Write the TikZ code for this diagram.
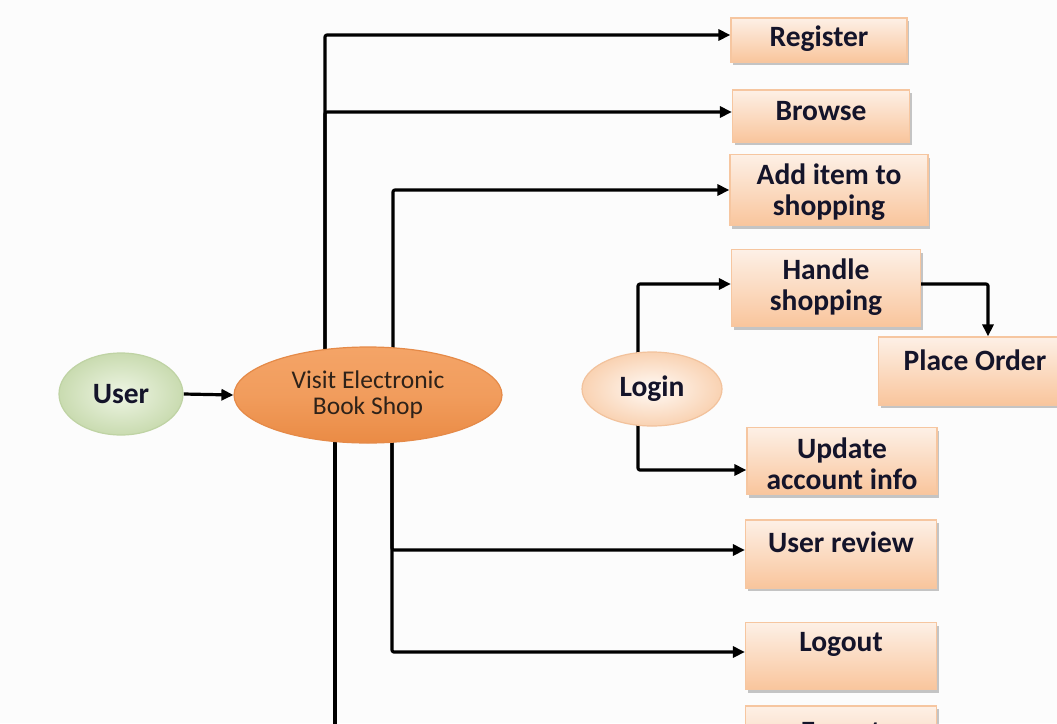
\documentclass[tikz,border=0pt]{standalone}
\usepackage{fontspec}
\setmainfont{Carlito}
\usetikzlibrary{arrows.meta,shapes.geometric,shadows,backgrounds,calc}

\definecolor{pagebg}{HTML}{FCFCFC}
\definecolor{ink}{HTML}{14142A}
\definecolor{boxline}{HTML}{F6C6A0}
\definecolor{boxtop}{HTML}{FDF0E6}
\definecolor{boxbot}{HTML}{F9C59C}
\definecolor{visittop}{HTML}{F4A467}
\definecolor{visitbot}{HTML}{EA8B45}
\definecolor{visitline}{HTML}{E58A48}
\definecolor{userin}{HTML}{EEF5E4}
\definecolor{userout}{HTML}{C9DBB0}
\definecolor{userline}{HTML}{BFD3A4}
\definecolor{loginin}{HTML}{FFFAF6}
\definecolor{loginout}{HTML}{F9D2B2}
\definecolor{loginline}{HTML}{F2C29C}
\definecolor{visitink}{HTML}{2E2219}

\tikzset{
  flow/.style={line width=3.2pt, rounded corners=2pt, line join=round,
    -{Triangle[length=12pt,width=11pt]}},
  plainline/.style={line width=3.2pt, rounded corners=2pt, line join=round},
  taskbox/.style={rectangle, draw=boxline, line width=1.2pt,
    top color=boxtop, bottom color=boxbot, inner sep=0pt,
    drop shadow={shadow xshift=2pt, shadow yshift=-3pt, fill=black, opacity=0.22}},
  lbl/.style={font=\bfseries\fontsize{29.5}{31}\selectfont, text=ink,
    align=center, inner sep=0pt},
  usecase/.style={ellipse, inner sep=0pt, line width=1.2pt},
}

\begin{document}
\begin{tikzpicture}[x=1pt,y=-1pt]
\useasboundingbox (0,0) rectangle (1057,723);
\clip (0,0) rectangle (1057,723);

% actors and use cases
\node[usecase, draw=userline, inner color=userin, outer color=userout,
  minimum width=124, minimum height=82, lbl] (user) at (121,394) {User};
\node[usecase, draw=visitline, top color=visittop, bottom color=visitbot,
  middle color=visittop!70!visitbot,
  minimum width=268, minimum height=96,
  font=\fontsize{25.5}{26}\selectfont, text=visitink, align=center] (visit) at (368,395)
  {Visit Electronic\\Book Shop};
\node[usecase, draw=loginline, inner color=loginin, outer color=loginout,
  minimum width=140, minimum height=74, lbl] (login) at (652,389) {Login};

% task boxes
\node[taskbox, minimum width=176, minimum height=44] (reg) at (819,40) {};
\node[taskbox, minimum width=177, minimum height=52] (browse) at (821,116) {};
\node[taskbox, minimum width=198, minimum height=71] (add) at (829,190) {};
\node[taskbox, minimum width=189, minimum height=77] (handle) at (826,288) {};
\node[taskbox, minimum width=183, minimum height=68] (place) at (970,371) {};
\node[taskbox, minimum width=190, minimum height=67] (update) at (842,461) {};
\node[taskbox, minimum width=191, minimum height=68] (review) at (841,554) {};
\node[taskbox, minimum width=191, minimum height=67] (logout) at (841,656) {};
\node[taskbox, minimum width=191, minimum height=78] (export) at (841,745) {};

% box labels
\node[lbl] (regT) at (819,39) {Register};
\node[lbl] (browseT) at (821,111) {Browse};
\node[lbl] (addT) at (829,192) {Add item to\\shopping};
\node[lbl] (handleT) at (826,287) {Handle\\shopping};
\node[lbl] (placeT) at (975,360) {Place Order};
\node[lbl] (updateT) at (842,464) {Update\\account info};
\node[lbl] (reviewT) at (841,542) {User review};
\node[lbl] (logoutT) at (841,644) {Logout};
\node[lbl] (exportT) at (841,734) {Export};

\coordinate (offpage) at (335,740);

\begin{pgfonlayer}{background}
  \clip (0,0) rectangle (1057,723);
  \fill[pagebg] (0,0) rectangle (1057,723);
  % connectors
  \draw[flow] (user.east) -- (visit.west);
  \draw[flow] ([xshift=-43pt]visit.center) |- ([yshift=5pt]reg.west);
  \draw[flow] ([xshift=-43pt]visit.center) |- ([yshift=4pt]browse.west);
  \draw[flow] ([xshift=25pt]visit.center) |- (add.west);
  \draw[plainline] ([xshift=-33pt]visit.center) -- (offpage);
  \draw[flow] ([xshift=24pt]visit.center) |- ([yshift=4pt]review.west);
  \draw[flow] ([xshift=24pt]visit.center) |- ([yshift=4pt]logout.west);
  \draw[flow] ([xshift=-14pt]login.center) |- ([yshift=4pt]handle.west);
  \draw[flow] ([xshift=-14pt]login.center) |- ([yshift=-9pt]update.west);
  \draw[flow] ([yshift=4pt]handle.east) -| ([xshift=18pt]place.north);
\end{pgfonlayer}
\end{tikzpicture}
\end{document}
